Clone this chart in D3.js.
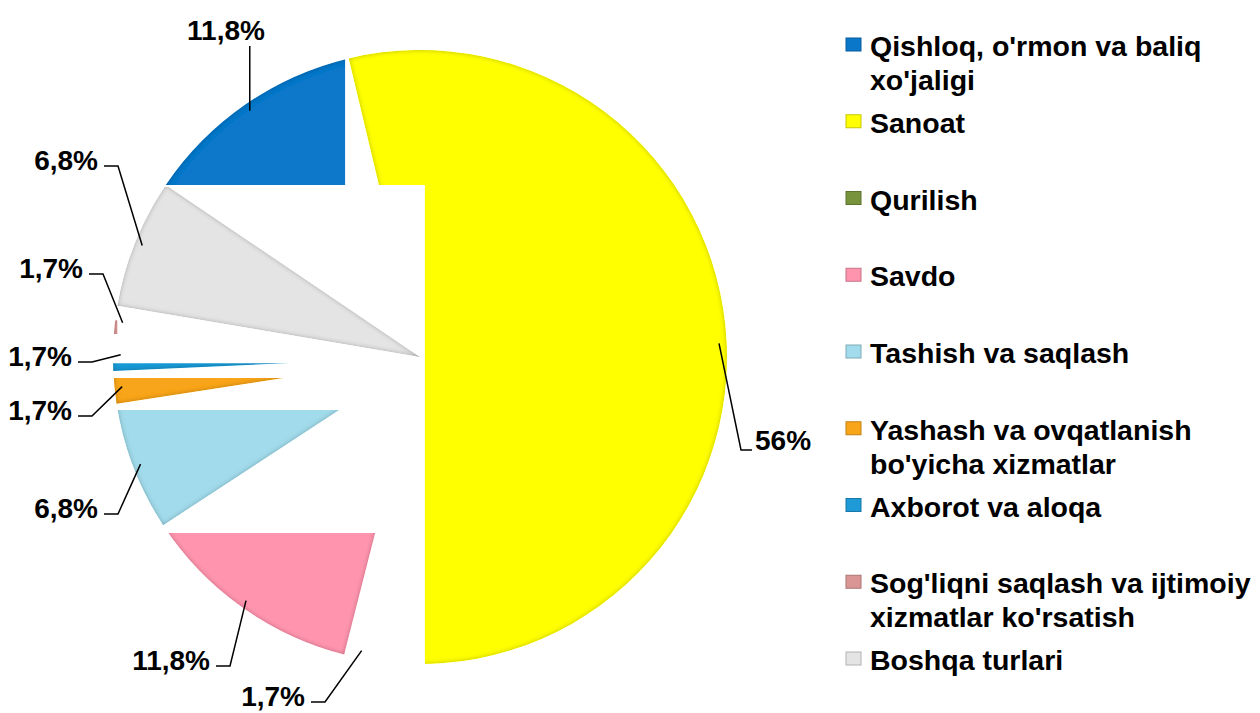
<!DOCTYPE html>
<html>
<head>
<meta charset="utf-8">
<script src="https://cdnjs.cloudflare.com/ajax/libs/d3/7.8.5/d3.min.js"></script>
<style>
  body { margin: 0; background: #fff; }
  text { font-family: "Liberation Sans", Arial, sans-serif; font-weight: bold; fill: #000; }
</style>
</head>
<body>
<div id="chart"></div>
<script>
// chart data
var categories = ["Qishloq, o'rmon va baliq xo'jaligi", "Sanoat", "Qurilish", "Savdo",
  "Tashish va saqlash", "Yashash va ovqatlanish bo'yicha xizmatlar", "Axborot va aloqa",
  "Sog'liqni saqlash va ijtimoiy xizmatlar ko'rsatish", "Boshqa turlari"];
var values = [11.8, 56, 1.7, 11.8, 6.8, 1.7, 1.7, 1.7, 6.8];
var valueLabels = ["11,8%", "56%", "1,7%", "11,8%", "6,8%", "1,7%", "1,7%", "1,7%", "6,8%"];
var legendLines = [["Qishloq, o'rmon va baliq", "xo'jaligi"], ["Sanoat"], ["Qurilish"], ["Savdo"],
  ["Tashish va saqlash"], ["Yashash va ovqatlanish", "bo'yicha xizmatlar"], ["Axborot va aloqa"],
  ["Sog'liqni saqlash va ijtimoiy", "xizmatlar ko'rsatish"], ["Boshqa turlari"]];

var colors = ["#0a77c9", "#ffff00", "#77933c", "#ff94ae", "#a2dbeb", "#f9a51a", "#1e9ad6", "#d99694", "#e4e4e4"];

var width = 1260, height = 713;
var cx = 420, cy = 357, radius = 307;

var svg = d3.select("#chart").append("svg")
  .attr("width", width)
  .attr("height", height);

var defs = svg.append("defs");

// soft inner edge for each slice
var bevel = defs.append("filter").attr("id", "bevel")
  .attr("x", "-10%").attr("y", "-10%").attr("width", "120%").attr("height", "120%");
bevel.append("feGaussianBlur").attr("in", "SourceAlpha").attr("stdDeviation", 2.5).attr("result", "blur");
bevel.append("feComposite").attr("in", "SourceAlpha").attr("in2", "blur")
  .attr("operator", "arithmetic").attr("k2", 1).attr("k3", -1).attr("result", "edge");
bevel.append("feFlood").attr("flood-color", "#000").attr("flood-opacity", 0.55);
bevel.append("feComposite").attr("in2", "edge").attr("operator", "in").attr("result", "shade");
var merge = bevel.append("feMerge");
merge.append("feMergeNode").attr("in", "SourceGraphic");
merge.append("feMergeNode").attr("in", "shade");

// visible part of every slice, in radius units around the centre (x0, y0, x1, y1)
var sliceClips = [
  [[-1.1, -1.1, -0.244, -0.56]],
  [[-1.1, -1.1, 1.1, -0.56], [0.016, -1.1, 1.1, 1.1]],
  [[-1.1, 0.99, 1.1, 1.1]],
  [[-1.1, 0.573, 1.1, 1.1]],
  [[-1.1, 0.173, 1.1, 1.1]],
  [[-1.1, 0.068, 1.1, 1.1]],
  [[-1.1, 0.02, 1.1, 1.1]],
  [[-1.1, -0.12, -0.986, -0.075]],
  [[-1.1, -0.554, 1.1, 1.1]]
];

sliceClips.forEach(function(rects, i) {
  var cp = defs.append("clipPath").attr("id", "clip" + i);
  rects.forEach(function(r) {
    cp.append("rect")
      .attr("x", r[0] * radius).attr("y", r[1] * radius)
      .attr("width", (r[2] - r[0]) * radius).attr("height", (r[3] - r[1]) * radius);
  });
});

var startAngle = -55.9 * Math.PI / 180;
var pie = d3.pie().sort(null).value(function(d) { return d; })
  .startAngle(startAngle).endAngle(startAngle + 2 * Math.PI);
var arcs = pie(values);

var arc = d3.arc().innerRadius(0).outerRadius(radius);

var g = svg.append("g").attr("transform", "translate(" + cx + "," + cy + ")");

g.selectAll("g.slice")
  .data(arcs)
  .enter()
  .append("g")
    .attr("class", "slice")
    .attr("clip-path", function(d, i) { return "url(#clip" + i + ")"; })
  .append("path")
    .attr("d", arc)
    .attr("fill", function(d, i) { return colors[i]; })
    .attr("filter", "url(#bevel)");

// data labels with leader lines (label text anchor position, side of the text)
var labelPos = [[226, 40, "middle"], [755, 450, "start"], [305, 706, "end"], [210, 670, "end"],
  [98, 518, "end"], [72, 420, "end"], [72, 366, "end"], [83, 278, "end"], [98, 170, "end"]];

var anchorArc = d3.arc().innerRadius(radius * 0.975).outerRadius(radius * 0.975);

arcs.forEach(function(d, i) {
  var c = anchorArc.centroid(d);
  var ax = cx + c[0], ay = cy + c[1];
  var p = labelPos[i];
  var pts;
  if (p[2] === "middle") {
    pts = [[ax, p[1] + 6], [ax, ay]];
  } else if (p[2] === "end") {
    pts = [[p[0] + 6, p[1] - 4], [p[0] + 20, p[1] - 4], [ax, ay]];
  } else {
    pts = [[p[0] - 3, p[1]], [p[0] - 14, p[1]], [ax, ay]];
  }
  svg.append("path")
    .attr("d", d3.line()(pts))
    .attr("fill", "none")
    .attr("stroke", "#000")
    .attr("stroke-width", 1.5);

  svg.append("text")
    .attr("x", p[0])
    .attr("y", p[1])
    .attr("text-anchor", p[2])
    .attr("font-size", "28px")
    .text(valueLabels[i]);
});

// legend
var legend = svg.append("g").attr("transform", "translate(846,56)");
var rowStep = 76.75, lineStep = 34;

legendLines.forEach(function(lines, i) {
  var row = legend.append("g").attr("transform", "translate(0," + (i * rowStep) + ")");
  row.append("rect")
    .attr("x", 0).attr("y", -18)
    .attr("width", 15).attr("height", 13)
    .attr("fill", colors[i])
    .attr("stroke", d3.color(colors[i]).darker(0.7))
    .attr("stroke-width", 1);
  lines.forEach(function(line, j) {
    row.append("text")
      .attr("x", 24)
      .attr("y", j * lineStep)
      .attr("font-size", "28.5px")
      .text(line);
  });
});
</script>
</body>
</html>
